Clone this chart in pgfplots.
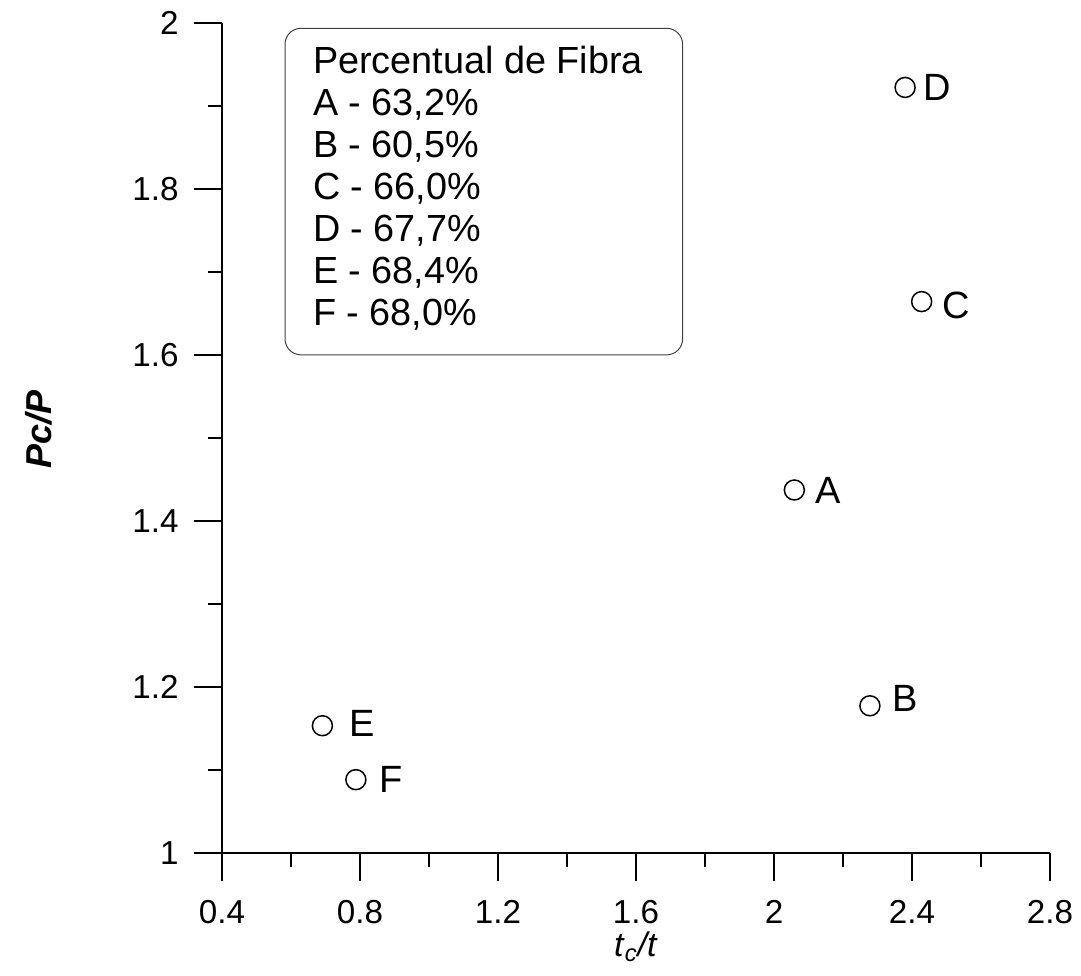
\documentclass[border=0pt]{standalone}
\usepackage{fontspec}
\setmainfont{Liberation Sans}
\usepackage{pgfplots}
\pgfplotsset{compat=1.18}
\usepackage{pgfplotstable}

% x = t_c/t, y = Pc/P, label and label offsets (pt)
\pgfplotstableread{
x     y     lab dx   dy
2.059 1.437 A   10.3 0
2.278 1.177 B   11.1 3.5
2.428 1.664 C   9.9  -2
2.380 1.922 D   8.8  0
0.691 1.153 E   13.3 1
0.788 1.088 F   11.6 0
}\fibra

\begin{document}
\begin{tikzpicture}
\useasboundingbox (-111pt,-61.15pt) rectangle (429.5pt,426.35pt);
\begin{axis}[
  scale only axis, width=414pt, height=415pt,
  xmin=0.4, xmax=2.8, ymin=1, ymax=2,
  axis x line*=bottom, axis y line*=left,
  axis line style={line width=1pt, black},
  xtick={0.4,0.8,1.2,1.6,2,2.4,2.8},
  ytick={1,1.2,1.4,1.6,1.8,2},
  minor x tick num=1, minor y tick num=1,
  tick align=outside,
  major tick length=14pt, minor tick length=7pt,
  every tick/.style={black, line width=1pt},
  /pgf/number format/assume math mode=true,
  ticklabel style={font=\fontsize{16.6}{19}\selectfont, inner sep=0pt},
  xticklabel style={anchor=base, yshift=-21.3pt},
  yticklabel style={anchor=east, xshift=-7.5pt},
  xlabel={\textit{t}\textsubscript{\textit{c}}\textit{/t}},
  xlabel style={at={(axis description cs:0.5,-0.1253)}, anchor=base, inner sep=0pt, font=\fontsize{17}{20}\selectfont},
  ylabel={\textbf{\textit{Pc/P}}},
  ylabel style={at={(axis description cs:-0.221,0.51)}, anchor=center, inner sep=0pt, font=\fontsize{18}{21}\selectfont},
  clip=false,
]
\addplot[only marks, mark=o, mark size=5pt, mark options={line width=0.75pt, black},
  visualization depends on={\thisrow{dx} \as \dx},
  visualization depends on={\thisrow{dy} \as \dy},
  point meta=explicit symbolic,
  nodes near coords,
  every node near coord/.append style={anchor=west, inner sep=0pt, black,
    font=\fontsize{19}{22}\selectfont, xshift=\dx pt, yshift=\dy pt},
] table[x=x, y=y, meta=lab] {\fibra};
\end{axis}
% legend box with fibre percentages
\draw[black!75, line width=0.5pt, rounded corners=8pt] (31.5pt,412.2pt) rectangle ++(198.8pt,-163.3pt);
\foreach \t [count=\i from 0] in {Percentual de Fibra, A - 63{,}2\%, B - 60{,}5\%, C - 66{,}0\%, D - 67{,}7\%, E - 68{,}4\%, F - 68{,}0\%}
  \node[anchor=base west, inner sep=0pt, font=\fontsize{18.9}{21}\selectfont] at (45.35pt, {389.7pt-\i*21.05pt}) {\t};
\end{tikzpicture}
\end{document}
